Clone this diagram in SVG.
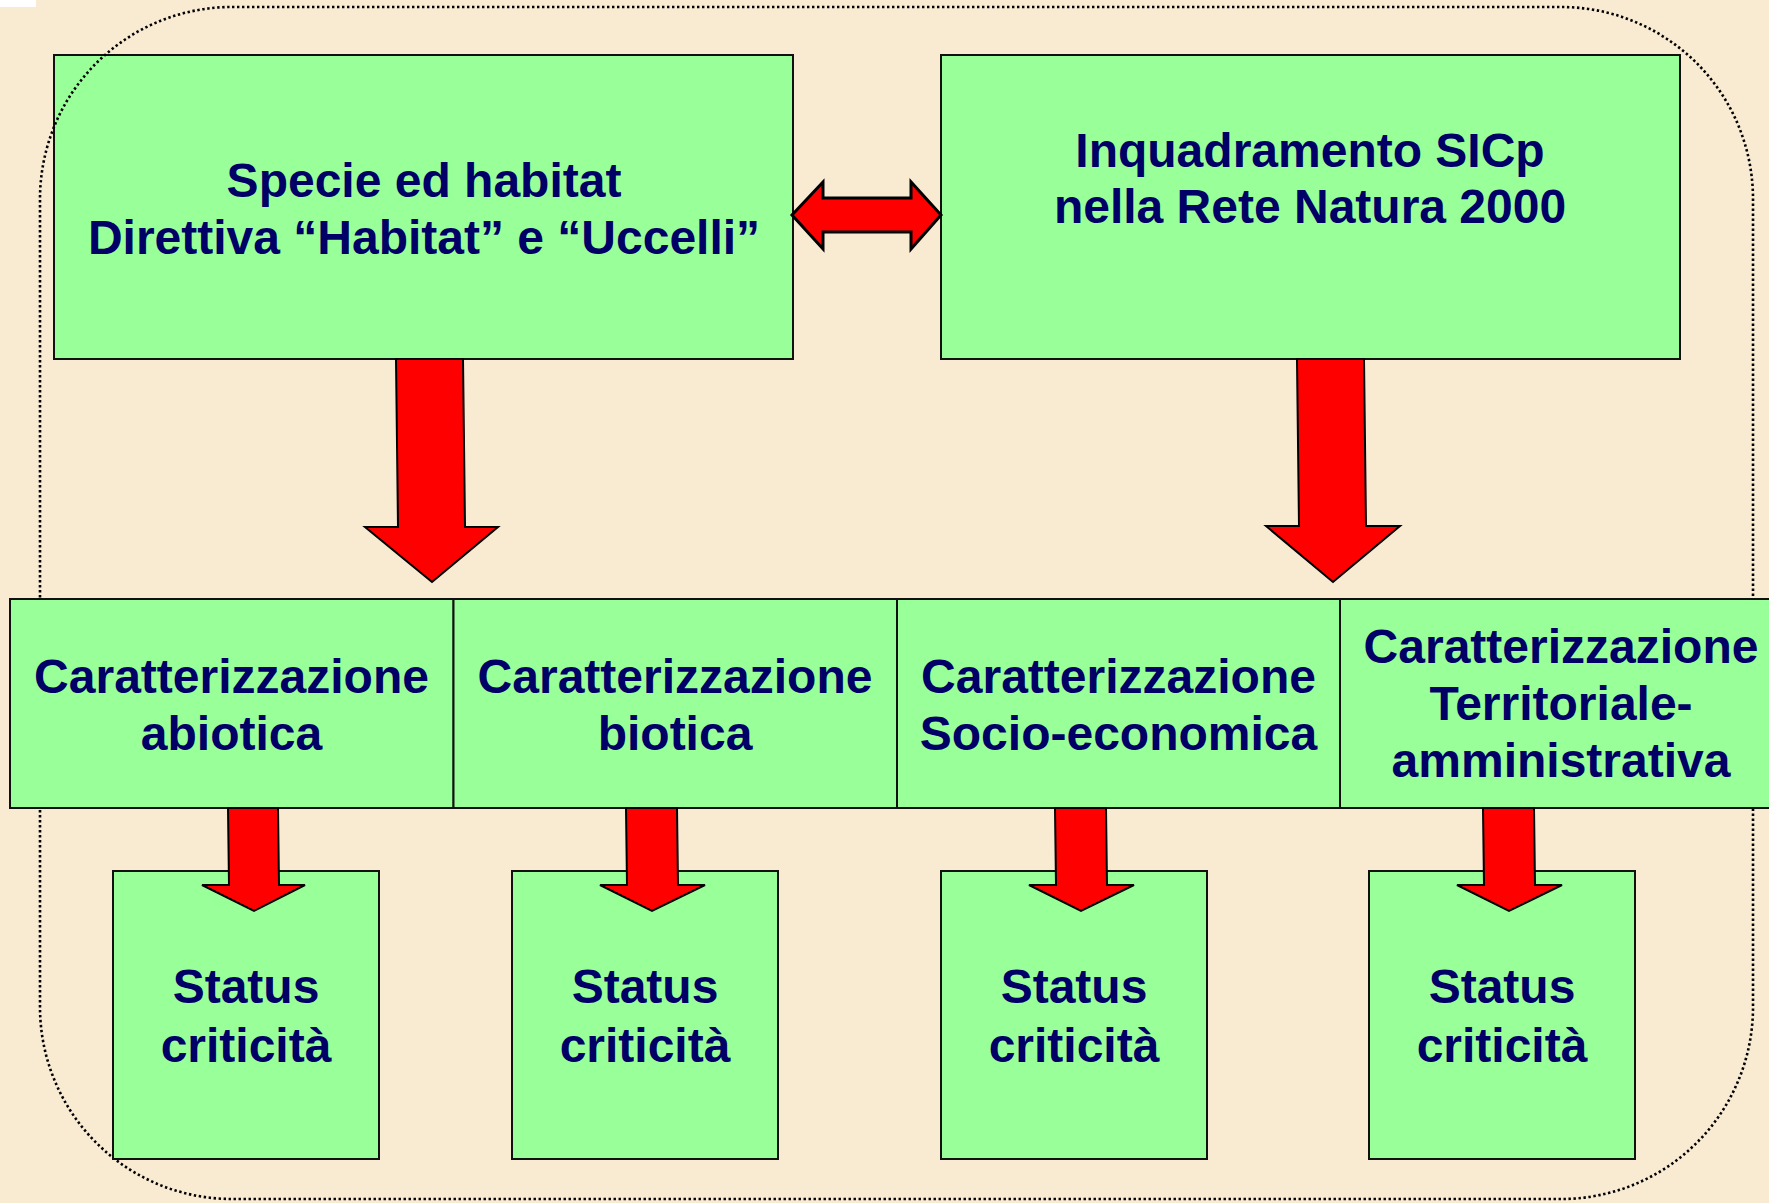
<svg xmlns="http://www.w3.org/2000/svg" width="1769" height="1203" viewBox="0 0 1769 1203">
<style>
.box{fill:#99FF99;stroke:#111;stroke-width:2}
.arr{fill:#FF0000;stroke:#000;stroke-width:2;stroke-linejoin:miter}
.t{font-family:"Liberation Sans",Arial,sans-serif;font-weight:bold;font-size:48px;fill:#000066;text-anchor:middle}
.frame{fill:none;stroke:#000;stroke-width:2.6;stroke-dasharray:2.4 2.6}
</style>
<rect x="0" y="0" width="1769" height="1203" fill="#F9EAD2"/>
<rect x="0" y="0" width="36" height="7" fill="#FFFFFF"/>
<g id="node-specie">
<rect class="box" x="54" y="55" width="739" height="304"/>
<text class="t" x="424" y="197">Specie ed habitat</text>
<text class="t" x="424" y="254">Direttiva “Habitat” e “Uccelli”</text>
</g>
<g id="node-inquadramento">
<rect class="box" x="941" y="55" width="739" height="304"/>
<text class="t" x="1310" y="167">Inquadramento SICp</text>
<text class="t" x="1310" y="223">nella Rete Natura 2000</text>
</g>
<rect class="frame" x="40" y="7" width="1713" height="1192" rx="192" ry="192"/>
<g id="node-abiotica">
<rect class="box" x="10" y="599" width="443.5" height="209"/>
<text class="t" x="231.5" y="693">Caratterizzazione</text>
<text class="t" x="231.5" y="750">abiotica</text>
</g>
<g id="node-biotica">
<rect class="box" x="453.5" y="599" width="443.5" height="209"/>
<text class="t" x="675" y="693">Caratterizzazione</text>
<text class="t" x="675" y="750">biotica</text>
</g>
<g id="node-socio">
<rect class="box" x="897" y="599" width="443" height="209"/>
<text class="t" x="1118.5" y="693">Caratterizzazione</text>
<text class="t" x="1118.5" y="750">Socio-economica</text>
</g>
<g id="node-territoriale">
<rect class="box" x="1340" y="599" width="444" height="209"/>
<text class="t" x="1561" y="663">Caratterizzazione</text>
<text class="t" x="1561" y="720">Territoriale-</text>
<text class="t" x="1561" y="777">amministrativa</text>
</g>
<g id="node-status1">
<rect class="box" x="113" y="871" width="266" height="288"/>
<text class="t" x="246" y="1003">Status</text>
<text class="t" x="246" y="1062">criticità</text>
</g>
<g id="node-status2">
<rect class="box" x="512" y="871" width="266" height="288"/>
<text class="t" x="645" y="1003">Status</text>
<text class="t" x="645" y="1062">criticità</text>
</g>
<g id="node-status3">
<rect class="box" x="941" y="871" width="266" height="288"/>
<text class="t" x="1074" y="1003">Status</text>
<text class="t" x="1074" y="1062">criticità</text>
</g>
<g id="node-status4">
<rect class="box" x="1369" y="871" width="266" height="288"/>
<text class="t" x="1502" y="1003">Status</text>
<text class="t" x="1502" y="1062">criticità</text>
</g>
<g id="connectors">
<polygon class="arr" style="stroke-width:3" points="792,215 823,182 823,198 911,198 911,182 941,215 911,249 911,232 823,232 823,249"/>
<polygon class="arr" points="396,359 463,359 465,527 498,527 432,582 365,527 398,527"/>
<polygon class="arr" points="1297,359 1364,359 1366,526 1400,526 1333,582 1266,526 1299,526"/>
<polygon class="arr" points="228,808 278,808 279,885 305,885 254,911 202,885 229,885"/>
<polygon class="arr" points="626,808 677,808 678,885 705,885 652,911 600,885 627,885"/>
<polygon class="arr" points="1055,808 1106,808 1107,885 1134,885 1081,911 1029,885 1056,885"/>
<polygon class="arr" points="1483,808 1534,808 1535,885 1562,885 1509,911 1457,885 1484,885"/>
</g>
</svg>
